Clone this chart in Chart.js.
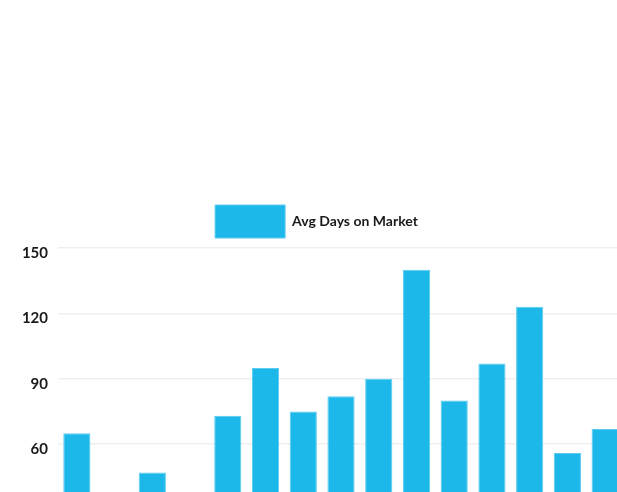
<!DOCTYPE html>
<html>
<head>
<meta charset="utf-8">
<script src="https://cdn.jsdelivr.net/npm/chart.js@4/dist/chart.umd.min.js"></script>
<style>
  html, body { margin: 0; padding: 0; overflow: hidden; background: #fff; }
  #wrap { position: absolute; left: 0; top: 195px; width: 633px; height: 420px; }
</style>
</head>
<body>
<div id="wrap"><canvas id="mainCanvas"></canvas></div>
<script>
// data (bars 2 and 4 sit below the visible area)
var labels = ['Jan', 'Feb', 'Mar', 'Apr', 'May', 'Jun', 'Jul', 'Aug', 'Sep', 'Oct', 'Nov', 'Dec', 'Jan', 'Feb', 'Mar'];
var avgDays = [65, 28, 47, 33, 73, 95, 75, 82, 90, 140, 80, 97, 123, 56, 67];
var yTicks = [0, 30, 60, 90, 120, 150];

Chart.defaults.font.family = 'Lato';
Chart.defaults.font.weight = 'bold';
Chart.defaults.color = '#1a1a1a';

var ChartObj = new Chart(document.getElementById('mainCanvas'), {
    type: 'bar',
    data: {
        labels: labels,
        datasets: [{
            label: 'Avg Days on Market',
            data: avgDays,
            backgroundColor: '#1cb8ea',
            borderColor: '#5ccbf0',
            borderWidth: 1
        }]
    },
    options: {
        responsive: true,
        maintainAspectRatio: false,
        animation: false,
        plugins: {
            legend: {
                labels: { boxWidth: 70, boxHeight: 33, padding: 10, font: { size: 14, weight: 'bold' } }
            },
            tooltip: { enabled: false }
        },
        scales: {
            x: {
                grid: { display: false },
                border: { display: false },
                ticks: { font: { size: 14 } },
                afterFit: function (s) { s.height = 40; s.paddingRight = 9; }
            },
            y: {
                min: yTicks[0],
                max: yTicks[yTicks.length - 1],
                grid: { color: '#efefef', lineWidth: 1.5, drawTicks: false },
                border: { display: false },
                ticks: { stepSize: 30, padding: 10, labelOffset: 5, font: { size: 15 } },
                afterFit: function (s) { s.width = 58; }
            }
        }
    }
});
</script>
</body>
</html>
